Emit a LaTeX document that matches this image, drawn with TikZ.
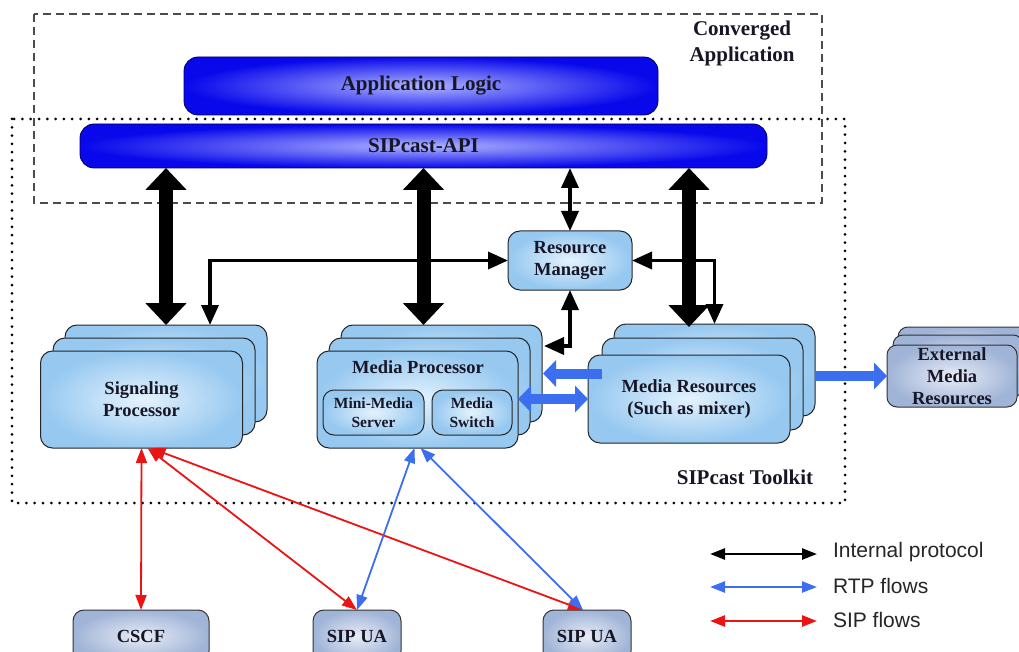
\documentclass[tikz,border=0pt]{standalone}
\usepackage{fontspec}
\setmainfont{Liberation Serif}
\newfontfamily\legendfont{Liberation Sans}
\usetikzlibrary{arrows.meta,calc}
\definecolor{barout}{RGB}{8,8,235}
\definecolor{barin}{RGB}{175,180,255}
\definecolor{lbout}{RGB}{150,200,240}
\definecolor{lbin}{RGB}{228,242,253}
\definecolor{gbout}{RGB}{160,180,215}
\definecolor{gbin}{RGB}{232,236,246}
\definecolor{rtpblue}{RGB}{60,110,240}
\definecolor{sipred}{RGB}{235,20,20}
\definecolor{txt}{RGB}{22,22,38}
\begin{document}
\begin{tikzpicture}[x=1pt,y=-1pt,
  every node/.style={inner sep=0pt, outer sep=0pt},
  bar/.style={draw=black!60!blue, line width=0.8pt, rounded corners=14pt,
    inner color=barin, outer color=barout, text=txt,
    font=\fontsize{21}{23}\selectfont\bfseries},
  stk/.style={draw=black!85, line width=1pt, rounded corners=12pt,
    inner color=lbin, outer color=lbout, text=txt, align=center,
    font=\fontsize{18.5}{22}\selectfont\bfseries},
  sub/.style={draw=black!85, line width=1pt, rounded corners=11pt,
    inner color=lbin, outer color=lbout, text=txt, align=center,
    font=\fontsize{15.5}{19}\selectfont\bfseries},
  gbox/.style={draw=black!80, line width=1pt, rounded corners=11pt,
    inner color=gbin, outer color=gbout, text=txt, align=center,
    font=\fontsize{18.5}{22}\selectfont\bfseries},
  lbl/.style={text=txt, align=center, font=\fontsize{21}{26}\selectfont\bfseries},
  bigarrow/.style={draw=black, line width=14pt, >={Triangle[length=22pt,width=40pt]}},
  intarrow/.style={draw=black, line width=3.5pt, >={Triangle[length=20pt,width=17pt]}},
  rtpthick/.style={draw=rtpblue, line width=10pt, >={Triangle[length=13pt,width=26pt]}},
  rtp/.style={draw=rtpblue, line width=1.8pt, >={Triangle[length=15pt,width=11pt]}},
  sip/.style={draw=sipred, line width=1.8pt, >={Triangle[length=15pt,width=11pt]}},
  legarrow/.style={line width=2.5pt, >={Triangle[length=15pt,width=11pt]}},
  legtext/.style={anchor=west, text=black!85, font=\legendfont\fontsize{21}{24}\selectfont}
]
\useasboundingbox (0,0) rectangle (1019,652);
\fill[white] (0,0) rectangle (1019,652);

% frames
\draw[draw=black!70, line width=1.3pt, dash pattern=on 8pt off 5pt] (34,14) rectangle (822,203);
\draw[draw=black, line width=3pt, line cap=round, dash pattern=on 0pt off 8.3pt] (12,119) rectangle (845,503);

% bars
\node[bar, minimum width=474pt, minimum height=58pt] (applogic) at (421,86) {Application Logic};
\node[bar, minimum width=687pt, minimum height=44pt] (api) at (423.5,146) {SIPcast-API};

\node[lbl] (conv) at (742,43) {Converged\\Application};
\node[lbl] (toolkit) at (745,477) {SIPcast Toolkit};

% resource manager
\node[stk, minimum width=124pt, minimum height=59pt] (rm) at (570,260.5) {Resource\\Manager};

% signaling processor stack
\node[stk, minimum width=202pt, minimum height=97pt] (sp3) at (166,373.5) {};
\node[stk, minimum width=202pt, minimum height=97pt] (sp2) at (154,386.5) {};
\node[stk, minimum width=202pt, minimum height=97pt] (sp) at (141.5,399.5) {Signaling\\Processor};

% media processor stack
\node[stk, minimum width=201pt, minimum height=97pt] (mp3) at (441.5,373.5) {};
\node[stk, minimum width=201pt, minimum height=97pt] (mp2) at (429.5,386.5) {};
\node[stk, minimum width=201pt, minimum height=97pt] (mp) at (417.5,399.5) {};
\node[text=txt, font=\fontsize{18.5}{22}\selectfont\bfseries] (mptitle) at (418,367) {Media Processor};
\node[sub, minimum width=101pt, minimum height=45pt] (mms) at (373.5,412.5) {Mini-Media\\Server};
\node[sub, minimum width=80pt, minimum height=45pt] (msw) at (472,412.5) {Media\\Switch};

% media resources stack
\node[stk, minimum width=201pt, minimum height=92pt] (mr3) at (714.5,370) {};
\node[stk, minimum width=201pt, minimum height=92pt] (mr2) at (702.5,384) {};
\node[stk, minimum width=202pt, minimum height=88pt] (mr) at (689,399) {Media Resources\\(Such as mixer)};

% external media resources stack
\node[gbox, minimum width=130pt, minimum height=62pt, rounded corners=10pt] (ext3) at (963,358) {};
\node[gbox, minimum width=130pt, minimum height=62pt, rounded corners=10pt] (ext2) at (958,366) {};
\node[gbox, minimum width=130pt, minimum height=62pt, rounded corners=10pt] (ext) at (952,376) {External\\Media\\Resources};

% bottom endpoints
\node[gbox, minimum width=136pt, minimum height=52pt] (cscf) at (141,636) {CSCF};
\node[gbox, minimum width=88pt, minimum height=52pt] (ua1) at (357,636) {SIP UA};
\node[gbox, minimum width=88pt, minimum height=52pt] (ua2) at (587,636) {SIP UA};

% internal protocol connectors
\draw[bigarrow, <->] (sp3.north |- api.south) -- (sp3.north);
\draw[bigarrow, <->] ([xshift=6pt]mp.north |- api.south) -- ([xshift=6pt]mp.north |- mp3.north);
\draw[bigarrow, <->] (mr.north |- api.south) -- ([yshift=-3pt]mr.north |- mr3.north);
\draw[intarrow, <->] (rm.north |- api.south) -- (rm.north);
\draw[intarrow, <->] (rm.west) -| ([xshift=44pt]sp3.north);
\draw[intarrow, <->] (rm.east) -| (mr3.north);
\draw[intarrow, <->] (rm.south) |- ([xshift=2pt,yshift=-21pt]mp3.north east);

% RTP thick connectors
\draw[rtpthick, ->] (mr2.west |- mp3.east) -- ([xshift=1pt]mp3.east);
\draw[rtpthick, <->] (mp.east |- mr.west) -- (mr.west);
\draw[rtpthick, ->] (mr3.east |- ext.west) -- (ext.west);

% SIP flows
\draw[sip, <->] (sp.south) -- (cscf.north);
\draw[sip, <->] ([xshift=6pt]sp.south) -- (ua1.north);
\draw[sip, <->] ([xshift=9pt]sp.south) -- ([xshift=-4pt]ua2.north);

% RTP flows
\draw[rtp, <->] ([xshift=-3pt]mp.south) -- (ua1.north);
\draw[rtp, <->] ([xshift=3pt]mp.south) -- ([xshift=-4pt]ua2.north);

% legend
\coordinate (la1) at (710,554);
\coordinate (lb1) at (817,554);
\coordinate (la2) at (710,587);
\coordinate (lb2) at (817,587);
\coordinate (la3) at (710,621);
\coordinate (lb3) at (817,621);
\draw[legarrow, draw=black, <->] (la1) -- (lb1);
\draw[legarrow, draw=rtpblue, <->] (la2) -- (lb2);
\draw[legarrow, draw=sipred, <->] (la3) -- (lb3);
\node[legtext] (lt1) at (833,552) {Internal protocol};
\node[legtext] (lt2) at (833,586) {RTP flows};
\node[legtext] (lt3) at (833,620) {SIP flows};
\end{tikzpicture}
\end{document}
